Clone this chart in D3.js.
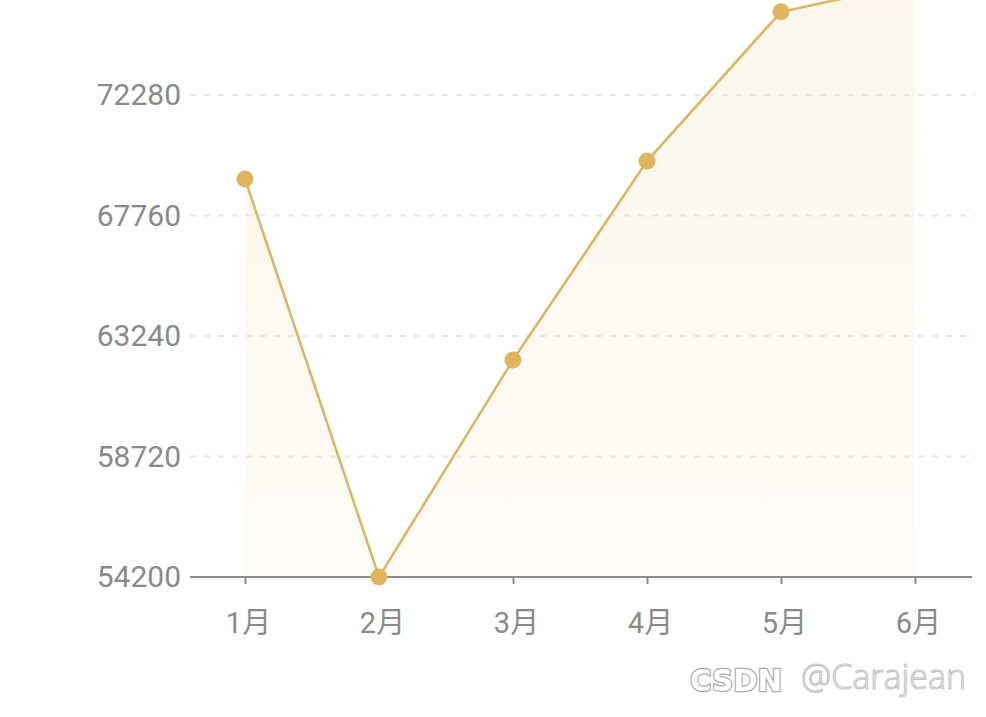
<!DOCTYPE html>
<html><head><meta charset="utf-8">
<script src="https://cdn.jsdelivr.net/npm/d3@7/dist/d3.min.js"></script>
<style>body{margin:0;background:#fff;}svg{display:block;}</style>
</head><body>
<script>
const categories = ["1月","2月","3月","4月","5月","6月"];
const values = [69130, 54200, 62340, 69800, 75400, 76480];
const yTicks = [54200, 58720, 63240, 67760, 72280];

const W = 986, H = 717;
const svg = d3.select("body").append("svg").attr("width", W).attr("height", H);
const font = "Roboto, 'Noto Sans CJK SC', sans-serif";

const x = d3.scalePoint().domain(categories).range([245, 915]);
const y = d3.scaleLinear().domain([54200, 72280]).range([577, 95]);

const defs = svg.append("defs");
const grad = defs.append("linearGradient").attr("id","ag").attr("x1",0).attr("y1",0).attr("x2",0).attr("y2",1);
grad.append("stop").attr("offset","0%").attr("stop-color","#f5e3bd").attr("stop-opacity",0.3);
grad.append("stop").attr("offset","100%").attr("stop-color","#f5e3bd").attr("stop-opacity",0.12);

// gridlines
svg.append("g").selectAll("line").data(yTicks.slice(1)).join("line")
  .attr("x1",190).attr("x2",975).attr("y1",d=>y(d)).attr("y2",d=>y(d))
  .attr("stroke","#e8e8e8").attr("stroke-width",2).attr("stroke-dasharray","6,8");

// area
const pts = categories.map((c,i)=>({c, v: values[i]}));
svg.append("path").datum(pts)
  .attr("d", d3.area().x(d=>x(d.c)).y0(y(54200)).y1(d=>y(d.v)))
  .attr("fill","url(#ag)");

// x axis
const xAxis = svg.append("g").attr("transform",`translate(0,${y(54200)})`)
  .call(d3.axisBottom(x).tickSize(7).tickPadding(28));
xAxis.select(".domain").remove();
xAxis.append("line").attr("x1",190).attr("x2",972).attr("stroke","#8c8c8c").attr("stroke-width",2);
xAxis.selectAll(".tick line").attr("stroke","#8c8c8c").attr("stroke-width",2);
xAxis.selectAll(".tick text").attr("fill","#8a8a8a").attr("font-size",29).attr("font-family",font).attr("dx",3);

// y axis labels
const yAxis = svg.append("g").attr("transform","translate(181,0)")
  .call(d3.axisLeft(y).tickValues(yTicks).tickSize(0).tickPadding(0).tickFormat(d3.format("d")));
yAxis.select(".domain").remove();
yAxis.selectAll(".tick text").attr("fill","#8a8a8a").attr("font-size",30).attr("font-family",font);

// line
svg.append("path").datum(pts)
  .attr("d", d3.line().x(d=>x(d.c)).y(d=>y(d.v)))
  .attr("fill","none").attr("stroke","#dbb765").attr("stroke-width",2.6);

svg.append("g").selectAll("circle").data(pts).join("circle")
  .attr("cx",d=>x(d.c)).attr("cy",d=>y(d.v)).attr("r",8.5).attr("fill","#dfb65e");

// watermark
svg.append("text").attr("x",966).attr("y",689).attr("text-anchor","end")
  .attr("font-family","'Open Sans', Lato, sans-serif").attr("font-weight",300).attr("font-size",34)
  .attr("fill","#fff").attr("stroke","#c8c8c8").attr("stroke-width",1.2)
  .text("@Carajean");
svg.append("text").attr("x",690).attr("y",691)
  .attr("font-family","'DejaVu Sans', sans-serif").attr("font-weight","bold").attr("font-size",30)
  .attr("fill","#fff").attr("stroke","#aaa").attr("stroke-width",2.5).attr("paint-order","stroke")
  .attr("textLength",92).attr("lengthAdjust","spacingAndGlyphs")
  .text("CSDN");
</script>
</body></html>
